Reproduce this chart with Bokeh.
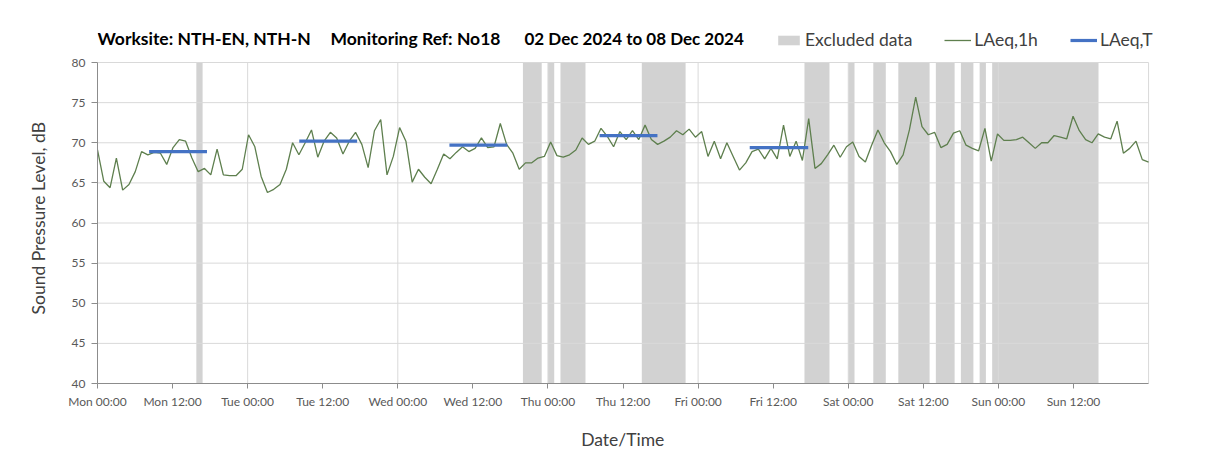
import numpy as np
from bokeh.plotting import figure
from bokeh.models import (FixedTicker, Range1d, Legend, LegendItem, Label,
                          ColumnDataSource)
from bokeh.embed import file_html
from bokeh.resources import INLINE

FONT = "Lato"
EM = "\u2003"  # em space: keeps the axis titles centred on the 40-80 dB / 0-168 h plot area

# ---------------- data ----------------
title_parts = ["Worksite: NTH-EN, NTH-N", "Monitoring Ref: No18", "02 Dec 2024 to 08 Dec 2024"]

tick_hours = list(range(0, 168, 12))
tick_labels = ["Mon 00:00", "Mon 12:00", "Tue 00:00", "Tue 12:00", "Wed 00:00",
               "Wed 12:00", "Thu 00:00", "Thu 12:00", "Fri 00:00", "Fri 12:00",
               "Sat 00:00", "Sat 12:00", "Sun 00:00", "Sun 12:00"]
day_hours = list(range(24, 169, 24))
y_ticks = [40, 45, 50, 55, 60, 65, 70, 75, 80]

# hourly LAeq,1h values (168 hours, Mon 00:00 .. Sun 23:00)
laeq_1h = [
    69.1, 65.2, 64.4, 68.1, 64.1, 64.8, 66.4, 68.9, 68.5, 68.8,
    68.7, 67.3, 69.4, 70.4, 70.2, 68.1, 66.4, 66.8, 66.0, 69.2,
    66.0, 65.9, 65.9, 66.7, 71.0, 69.5, 65.8, 63.8, 64.2, 64.8,
    66.7, 70.0, 68.5, 70.0, 71.6, 68.2, 70.2, 71.3, 70.6, 68.6,
    70.2, 71.3, 69.8, 66.9, 71.5, 72.9, 66.0, 68.3, 71.9, 70.2,
    65.1, 66.7, 65.7, 64.9, 66.7, 68.6,
    68.0, 68.8, 69.5, 68.9, 69.3, 70.6, 69.4, 69.5, 72.4, 69.8,
    68.7, 66.7, 67.5, 67.5, 68.1, 68.3, 70.1, 68.4, 68.2, 68.5,
    69.1, 70.6, 69.8, 70.2, 71.8, 70.8, 69.5, 71.4, 70.4, 71.5,
    70.4, 72.2, 70.4, 69.8, 70.2, 70.7, 71.5, 71.0, 71.7, 70.7,
    71.4, 68.3, 70.2, 68.0, 70.0, 68.3, 66.6, 67.5, 68.9, 69.2,
    68.0, 69.3, 68.0, 72.2, 68.3, 70.2,
    67.8, 73.0, 66.8, 67.4, 68.5, 69.7, 68.2, 69.5, 70.1, 68.3,
    67.6, 69.7, 71.6, 70.0, 68.9, 67.3, 68.5, 71.6, 75.7, 72.0,
    71.0, 71.3, 69.4, 69.8, 71.2, 71.5, 69.7, 69.3, 69.0, 71.8,
    67.7, 71.1, 70.3, 70.3, 70.4, 70.7, 70.0, 69.3, 70.0, 70.0,
    70.9, 70.7, 70.5, 73.3, 71.5, 70.4, 70.0, 71.1, 70.7, 70.5,
    72.7, 68.7, 69.3, 70.2, 67.9, 67.6,
]

# excluded-data periods, hours from Mon 00:00
excl_start = [15.8, 68, 72, 74, 87, 113, 120, 124, 128, 134, 138, 141, 143]
excl_end = [16.8, 71, 73, 78, 94, 117, 121, 126, 133, 137, 140, 142, 160]

# LAeq,T daytime periods
laeqT_start = [8.25, 32.25, 56.25, 80.25, 104.25]
laeqT_end = [17.5, 41.5, 65.5, 89.5, 113.6]
laeqT = [68.9, 70.2, 69.7, 70.9, 69.4]

Y_MIN, Y_MAX = 40, 80
X_MIN, X_MAX = 0, 168

# ---------------- figure ----------------
# The frame extends above / right of the 40..80 dB x 0..168 h plot area so that
# the header (title + legend) is not clipped; axes and grid are bounded to it.
W, H = 1200, 472
p = figure(width=W, height=H, output_backend="svg", toolbar_location=None,
           x_range=Range1d(X_MIN, 176.3), y_range=Range1d(Y_MIN, 87.73),
           min_border_left=97, min_border_right=0, min_border_top=0,
           min_border_bottom=89, background_fill_color="white",
           border_fill_color="white")
p.outline_line_color = None
frame_h = H - 89

n = len(laeq_1h)
hours = np.arange(n) * (X_MAX - X_MIN) / (n - 1)

band_src = ColumnDataSource(dict(left=excl_start, right=excl_end,
                                 bottom=[Y_MIN] * len(excl_start),
                                 top=[Y_MAX] * len(excl_start)))
bands = p.quad(left="left", right="right", bottom="bottom", top="top",
               source=band_src, fill_color="#D2D2D2", line_color=None, level="image")

# grid lines limited to the plot area
p.segment(x0=day_hours, x1=day_hours, y0=[Y_MIN] * len(day_hours),
          y1=[Y_MAX] * len(day_hours), line_color="#D9D9D9", line_width=1,
          level="underlay")
p.segment(x0=[X_MIN] * len(y_ticks), x1=[X_MAX] * len(y_ticks), y0=y_ticks,
          y1=y_ticks, line_color="#D9D9D9", line_width=1, level="underlay")

line_r = p.line(hours, laeq_1h, line_color="#5E7F4E", line_width=1.3)

seg_r = p.segment(x0=laeqT_start, x1=laeqT_end, y0=laeqT, y1=laeqT,
                  line_color="#4472C4", line_width=3.2)

# axes
for ax in (p.xaxis[0], p.yaxis[0]):
    ax.axis_line_color = "#8C8C8C"
    ax.major_tick_line_color = "#8C8C8C"
    ax.minor_tick_line_color = None
    ax.major_tick_in = 0
    ax.major_tick_out = 5
    ax.major_label_text_font = FONT
    ax.major_label_text_font_size = "12px"
    ax.major_label_text_color = "#595959"
    ax.axis_label_text_font = FONT
    ax.axis_label_text_font_size = "17.5px"
    ax.axis_label_text_font_style = "normal"
    ax.axis_label_text_color = "#404040"

p.xaxis.ticker = FixedTicker(ticks=tick_hours)
p.xaxis.major_label_overrides = {h: l for h, l in zip(tick_hours, tick_labels)}
p.xaxis.axis_label = "Date/Time" + EM * 4
p.xaxis.bounds = (X_MIN, X_MAX)
p.xaxis.major_label_standoff = 5
p.xaxis.axis_label_standoff = 17

p.yaxis.ticker = FixedTicker(ticks=y_ticks)
p.yaxis.axis_label = "Sound Pressure Level, dB" + EM * 4
p.yaxis.bounds = (Y_MIN, Y_MAX)
p.yaxis.major_tick_out = 6
p.yaxis.major_label_standoff = 6
p.yaxis.axis_label_standoff = 20

p.xgrid.visible = False
p.ygrid.visible = False

# title
title_x = [0, 233, 427]
title_sizes = ["17.5px", "17.5px", "17px"]
for txt, tx, fs in zip(title_parts, title_x, title_sizes):
    p.add_layout(Label(x=tx, y=frame_h - 38, x_units="screen", y_units="screen",
                       text=txt, text_font=FONT, text_font_size=fs,
                       text_font_style="bold", text_color="black",
                       text_baseline="middle", text_align="left"))

# legend
legend = Legend(items=[LegendItem(label="Excluded data", renderers=[bands]),
                       LegendItem(label="LAeq,1h", renderers=[line_r]),
                       LegendItem(label="LAeq,T", renderers=[seg_r])],
                orientation="horizontal", location=(678, frame_h - 50),
                glyph_width=27, glyph_height=12, label_height=12,
                label_standoff=3, spacing=32, padding=0, margin=0,
                border_line_color=None, background_fill_alpha=0,
                label_text_font=FONT, label_text_font_size="17.5px",
                label_text_color="#404040")
p.add_layout(legend)

open("out.html", "w").write(file_html(p, INLINE))
